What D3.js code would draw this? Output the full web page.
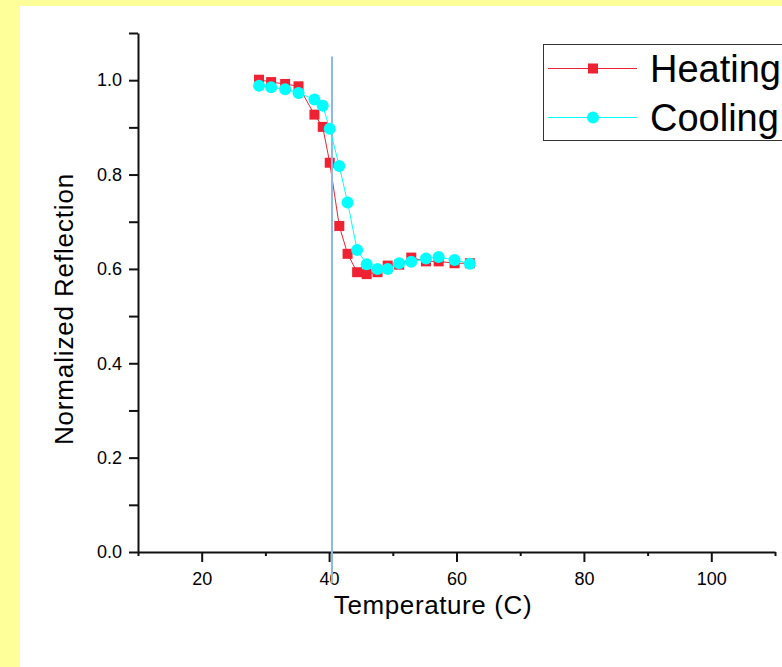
<!DOCTYPE html>
<html>
<head>
<meta charset="utf-8">
<script src="https://cdn.jsdelivr.net/npm/d3@7/dist/d3.min.js"></script>
<style>
  html, body { margin: 0; padding: 0; background: #FFFF99; }
  svg { display: block; }
  text { font-family: "Liberation Sans", Arial, sans-serif; fill: #000; }
</style>
</head>
<body>
<svg id="chart" width="782" height="667"></svg>
<script>
// Temperature sweep (C) shared by both runs
const temperature = [29.0, 30.9, 33.1, 35.2, 37.7, 39.0, 40.1, 41.6, 42.9, 44.4,
                     45.9, 47.6, 49.2, 51.0, 52.9, 55.2, 57.2, 59.7, 62.1];
// Normalized reflection while heating
const heating = [1.001, 0.996, 0.992, 0.987, 0.927, 0.901, 0.825, 0.691, 0.632, 0.593,
                 0.589, 0.593, 0.607, 0.609, 0.624, 0.616, 0.616, 0.612, 0.612];
// Normalized reflection while cooling
const cooling = [0.988, 0.985, 0.981, 0.973, 0.959, 0.946, 0.897, 0.818, 0.741, 0.640,
                 0.610, 0.600, 0.600, 0.612, 0.615, 0.622, 0.625, 0.619, 0.611];

const seriesNames = ["Heating", "Cooling"];

// Axis ticks
const xMajorTicks = [20, 40, 60, 80, 100];
const xMinorTicks = [10, 30, 50, 70, 90, 110];
const yMajorTicks = [0.0, 0.2, 0.4, 0.6, 0.8, 1.0];
const yMinorTicks = [0.1, 0.3, 0.5, 0.7, 0.9, 1.1];

// Transition marker line: temperature and vertical extent (in reflection units)
const transitionT = [40.45];
const transitionSpan = [-0.066, 1.05];

const xLabel = "Temperature (C)";
const yLabel = "Normalized Reflection";

const svg = d3.select("#chart");

// white page panel
svg.append("rect").attr("x", 20).attr("y", 6).attr("width", 800).attr("height", 700).attr("fill", "#fff");

const x = d3.scaleLinear().domain([10, 110]).range([138, 775]);
const y = d3.scaleLinear().domain([0, 1.1]).range([552, 33]);

const axisColor = "#111";

function styleAxis(g) {
  g.selectAll("path.domain").attr("stroke", axisColor).attr("stroke-width", 2);
  g.selectAll(".tick line").attr("stroke", axisColor).attr("stroke-width", 2);
  g.selectAll("text").attr("font-size", 18).attr("font-family", "Liberation Sans, Arial, sans-serif").attr("fill", "#111");
}

// x axis
const gxMinor = svg.append("g").attr("transform", `translate(0,${y(0)})`)
  .call(d3.axisBottom(x).tickValues(xMinorTicks).tickSize(4).tickSizeOuter(0).tickFormat(""));
styleAxis(gxMinor);
const gx = svg.append("g").attr("transform", `translate(0,${y(0)})`)
  .call(d3.axisBottom(x).tickValues(xMajorTicks).tickSize(10).tickSizeOuter(0).tickPadding(10).tickFormat(d3.format("d")));
styleAxis(gx);
gx.select("path.domain").remove();

// y axis
const gyMinor = svg.append("g").attr("transform", `translate(${x(10)},0)`)
  .call(d3.axisLeft(y).tickValues(yMinorTicks).tickSize(9).tickSizeOuter(0).tickFormat(""));
styleAxis(gyMinor);
const gy = svg.append("g").attr("transform", `translate(${x(10)},0)`)
  .call(d3.axisLeft(y).tickValues(yMajorTicks).tickSize(9).tickSizeOuter(0).tickPadding(7).tickFormat(d3.format(".1f")));
styleAxis(gy);
gy.select("path.domain").remove();

// axis titles
svg.append("text")
  .attr("x", 433).attr("y", 614)
  .attr("text-anchor", "middle")
  .attr("font-size", 26)
  .attr("letter-spacing", 0.6)
  .text(xLabel);

svg.append("text")
  .attr("transform", `translate(73,309) rotate(-90)`)
  .attr("text-anchor", "middle")
  .attr("font-size", 26)
  .attr("letter-spacing", 0.85)
  .text(yLabel);

const heatColor = "#EE2233";
const coolColor = "#00FFFF";
const line = d3.line().x(d => x(d[0])).y(d => y(d[1]));

const heatPts = temperature.map((t, i) => [t, heating[i]]);
const coolPts = temperature.map((t, i) => [t, cooling[i]]);

// heating run
svg.append("path").datum(heatPts).attr("d", line)
  .attr("fill", "none").attr("stroke", heatColor).attr("stroke-width", 1);
svg.append("g").selectAll("rect").data(heatPts).join("rect")
  .attr("x", d => x(d[0]) - 5).attr("y", d => y(d[1]) - 5)
  .attr("width", 10).attr("height", 10)
  .attr("fill", heatColor);

// transition marker
svg.append("line")
  .attr("x1", x(transitionT[0])).attr("x2", x(transitionT[0]))
  .attr("y1", y(transitionSpan[1])).attr("y2", y(transitionSpan[0]))
  .attr("stroke", "#8DB8E2").attr("stroke-width", 2);

// cooling run
svg.append("path").datum(coolPts).attr("d", line)
  .attr("fill", "none").attr("stroke", coolColor).attr("stroke-width", 1);
svg.append("g").selectAll("circle").data(coolPts).join("circle")
  .attr("cx", d => x(d[0])).attr("cy", d => y(d[1]))
  .attr("r", 6)
  .attr("fill", coolColor);

// legend
const legend = svg.append("g");
legend.append("rect")
  .attr("x", 543.5).attr("y", 44.5).attr("width", 300).attr("height", 96)
  .attr("fill", "#fff").attr("stroke", "#333").attr("stroke-width", 1);
const legendRows = [
  { name: seriesNames[0], color: heatColor, shape: "square", cy: 68.5, ty: 82 },
  { name: seriesNames[1], color: coolColor, shape: "circle", cy: 117.5, ty: 131 }
];
legendRows.forEach(r => {
  legend.append("line").attr("x1", 548).attr("x2", 637).attr("y1", r.cy).attr("y2", r.cy)
    .attr("stroke", r.color).attr("stroke-width", 1);
  if (r.shape === "square") {
    legend.append("rect").attr("x", 588).attr("y", r.cy - 5).attr("width", 10).attr("height", 10).attr("fill", r.color);
  } else {
    legend.append("circle").attr("cx", 593).attr("cy", r.cy).attr("r", 6).attr("fill", r.color);
  }
  legend.append("text").attr("x", 650).attr("y", r.ty).attr("font-size", 38).text(r.name);
});
</script>
</body>
</html>
